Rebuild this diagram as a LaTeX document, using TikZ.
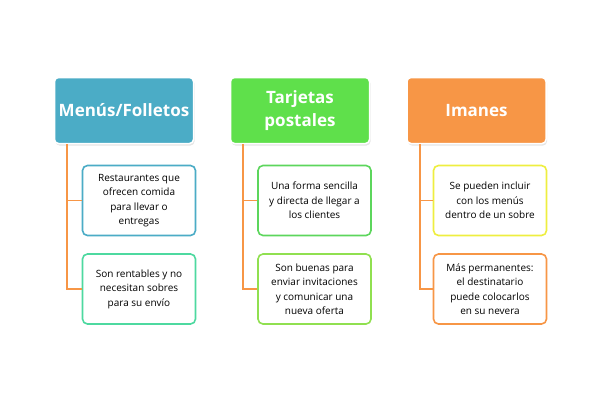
\documentclass[tikz,border=0pt]{standalone}
\usepackage{fontspec}
\setmainfont{Open Sans}
\usepackage{tikz}
\usetikzlibrary{calc, shadows}
\definecolor{hblue}{HTML}{4BACC6}
\definecolor{hgreen}{HTML}{5FE04B}
\definecolor{horange}{HTML}{F79646}
\definecolor{bmint}{HTML}{4DD9A0}
\definecolor{bgreen}{HTML}{5CD65C}
\definecolor{blime}{HTML}{90E050}
\definecolor{byellow}{HTML}{EEEE40}
\tikzset{
    head/.style={draw=white, line width=1.5pt, rounded corners=4pt, fill=#1,
        minimum width=139pt, minimum height=66pt, align=center,
        text=white, font=\fontsize{17}{23}\selectfont\bfseries,
        drop shadow={opacity=0.2, shadow xshift=1pt, shadow yshift=-2pt}},
    leaf/.style={draw=#1, line width=1.6pt, rounded corners=5pt, fill=white,
        minimum width=113pt, minimum height=70pt, align=center,
        font=\fontsize{10}{14.5}\selectfont},
    link/.style={draw=horange, line width=1.8pt}
}
\begin{document}
\begin{tikzpicture}[x=1pt,y=-1pt]
    \useasboundingbox[fill=white] (0,0) rectangle (600,400);
    % headers
    \node[head=hblue] (h1) at (124,110.5) {Menús/Folletos};
    \node[head=hgreen] (h2) at (300,110.5) {Tarjetas\\postales};
    \node[head=horange] (h3) at (476.5,110.5) {Imanes};
    % items
    \node[leaf=hblue] (a1) at (139,200.5) {Restaurantes que\\ofrecen comida\\para llevar o\\entregas};
    \node[leaf=bmint] (b1) at (139,289) {Son rentables y no\\necesitan sobres\\para su envío};
    \node[leaf=bgreen] (a2) at (314.5,200.5) {Una forma sencilla\\y directa de llegar a\\los clientes};
    \node[leaf=blime] (b2) at (314.5,289) {Son buenas para\\enviar invitaciones\\y comunicar una\\nueva oferta};
    \node[leaf=byellow] (a3) at (490,200.5) {Se pueden incluir\\con los menús\\dentro de un sobre};
    \node[leaf=horange] (b3) at (490,289) {Más permanentes:\\el destinatario\\puede colocarlos\\en su nevera};
    % connectors
    \foreach \c in {1,2,3} {
        \coordinate (t\c) at ($(h\c.south west)+(13.5,0)$);
        \draw[link] (t\c) |- (b\c.west) (t\c) |- (a\c.west);
    }
\end{tikzpicture}
\end{document}
